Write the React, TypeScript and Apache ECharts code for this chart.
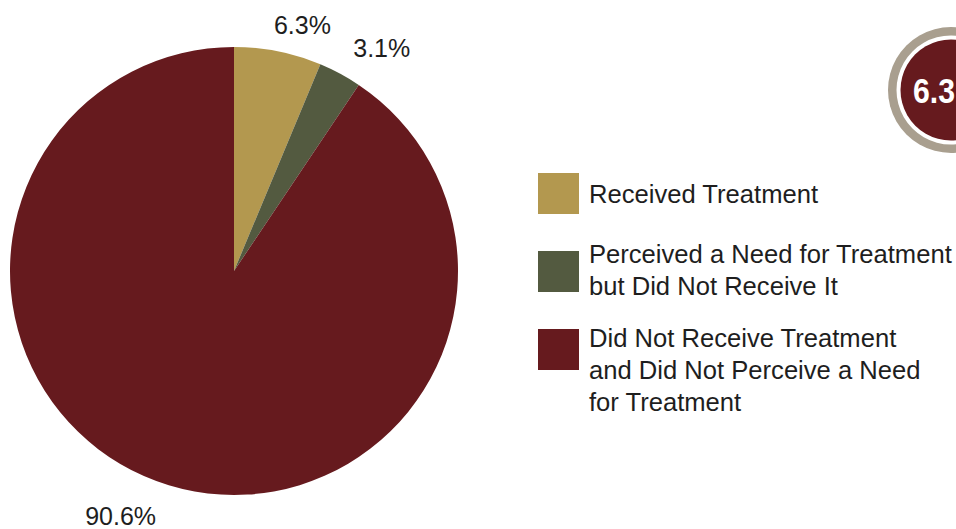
import React, { useEffect, useRef } from "react";
import * as echarts from "echarts";

// ---- data ----
const categories: string[] = [
  "Received Treatment",
  "Perceived a Need for Treatment\nbut Did Not Receive It",
  "Did Not Receive Treatment\nand Did Not Perceive a Need\nfor Treatment",
];
const values: number[] = [6.3, 3.1, 90.6];
const badgeText = "6.3";

// ---- styles ----
const COLORS = ["#b3984f", "#535a40", "#661a1e"];
const LABEL_NUDGE: [number, number][] = [
  [-15, 3],
  [-6, 1],
  [1, 2],
];
const FONT = "'Liberation Sans', Arial, Helvetica, sans-serif";

export default function App() {
  const ref = useRef<HTMLDivElement>(null);
  useEffect(() => {
    if (!ref.current) return;
    const chart = echarts.init(ref.current, undefined, { renderer: "svg" });

    const legendTops = [173, 251, 329];
    const legendTextTops = [178, 238, 322];
    const legendGraphics: any[] = [];
    categories.forEach((name, i) => {
      legendGraphics.push({
        type: "rect",
        shape: { x: 538, y: legendTops[i], width: 41, height: 41 },
        style: { fill: COLORS[i] },
        silent: true,
      });
      legendGraphics.push({
        type: "text",
        x: 589,
        y: legendTextTops[i],
        style: {
          text: name,
          fill: "#1e1e1e",
          font: `25.6px ${FONT}`,
          lineHeight: 32,
          verticalAlign: "top",
          align: "left",
        },
        silent: true,
      });
    });

    chart.setOption({
      animation: false,
      color: COLORS,
      graphic: [
        ...legendGraphics,
        { type: "circle", shape: { cx: 951, cy: 90, r: 63 }, style: { fill: "#a99f8f" }, silent: true },
        { type: "circle", shape: { cx: 951, cy: 90, r: 54.5 }, style: { fill: "#ffffff" }, silent: true },
        { type: "circle", shape: { cx: 951, cy: 90, r: 50.5 }, style: { fill: "#661a1e" }, silent: true },
        {
          type: "text",
          x: 913,
          y: 91,
          scaleX: 0.84,
          style: {
            text: badgeText,
            fill: "#ffffff",
            font: `bold 36px 'Liberation Sans', Arial, sans-serif`,
            verticalAlign: "middle",
            align: "left",
          },
          silent: true,
        },
      ],
      series: [
        {
          type: "pie",
          center: [234, 271],
          radius: 224,
          startAngle: 90,
          clockwise: true,
          avoidLabelOverlap: false,
          data: categories.map((name, i) => ({ name, value: values[i] })),
          label: {
            show: true,
            position: "outside",
            formatter: (p: any) => `${p.value}%`,
            fontFamily: FONT,
            fontSize: 25,
            color: "#1e1e1e",
          },
          labelLine: { show: false, length: 30, length2: 0 },
          labelLayout: (p: any) => ({
            dx: LABEL_NUDGE[p.dataIndex][0],
            dy: LABEL_NUDGE[p.dataIndex][1],
          }),
          itemStyle: { borderWidth: 0 },
          emphasis: { disabled: true },
        },
      ],
    });
    return () => chart.dispose();
  }, []);
  return (
    <div
      ref={ref}
      style={{ position: "absolute", left: 0, top: 0, width: 956, height: 529 }}
    />
  );
}
